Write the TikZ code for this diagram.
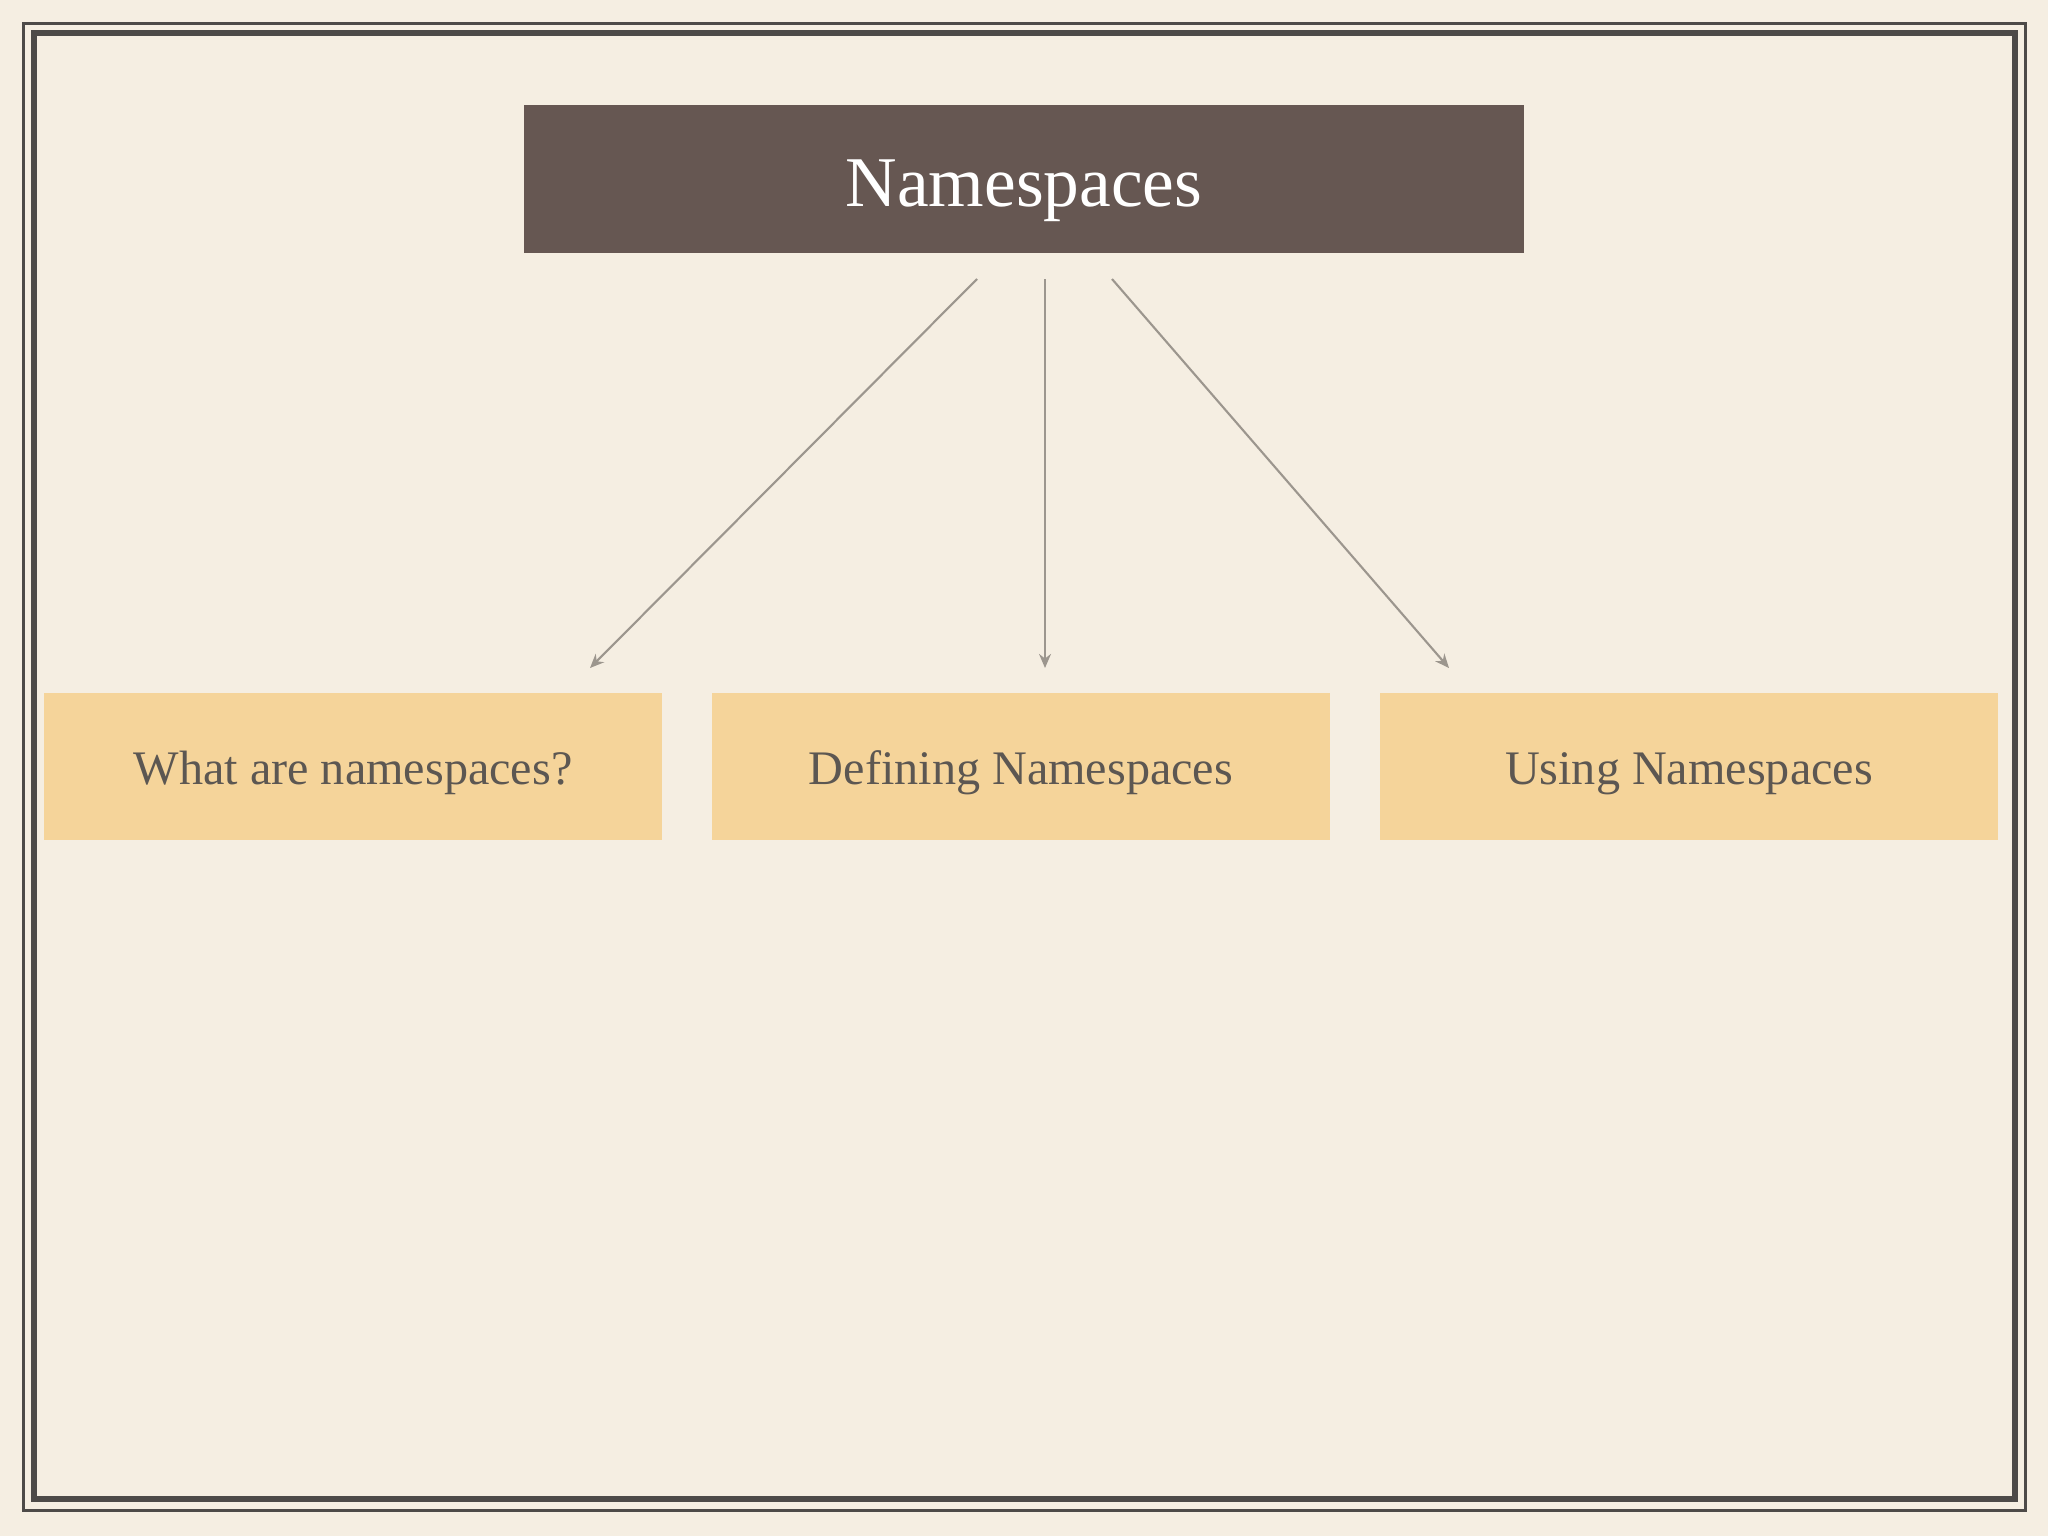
\documentclass[tikz,border=0pt]{standalone}
\usepackage{fontspec}
\setmainfont{Liberation Serif}
\usetikzlibrary{arrows.meta}
\definecolor{paper}{HTML}{F5EEE2}
\definecolor{frame}{HTML}{4D4A48}
\definecolor{titlebg}{HTML}{665752}
\definecolor{topicbg}{HTML}{F5D49A}
\definecolor{topictext}{HTML}{5C5752}
\definecolor{link}{HTML}{9C968E}
\begin{document}
\begin{tikzpicture}[x=0.01cm,y=-0.01cm]
    \tikzstyle{title}=[fill=titlebg,text=white,minimum width=10cm,minimum height=1.48cm,inner sep=0pt,text height=15.4pt,text depth=0pt,font=\fontsize{20.3}{24}\selectfont]
    \tikzstyle{topic}=[fill=topicbg,text=topictext,minimum width=6.18cm,minimum height=1.47cm,inner sep=0pt,text height=10.5pt,text depth=0pt,font=\fontsize{13.7}{17}\selectfont]
    \tikzstyle{link}=[draw=link,line width=0.6pt,-{Stealth[length=4pt,width=3.4pt]}]
    \fill [paper] (0,0) rectangle (2048,1536);
    \useasboundingbox (0,0) rectangle (2048,1536);
    % frame
    \draw [frame,line width=0.9pt] (23.5,23.5) rectangle (2025.5,1510.5);
    \draw [frame,line width=1.7pt] (34,33) rectangle (2015,1499);
    % nodes
    \node [title] (ns) at (1024,179) {Namespaces};
    \node [topic] (what) at (353,766.5) {What are namespaces?};
    \node [topic] (def) at (1021,766.5) {Defining Namespaces};
    \node [topic] (use) at (1689,766.5) {Using Namespaces};
    % arrow ends
    \coordinate (s1) at (977,279);
    \coordinate (s2) at (1045,279);
    \coordinate (s3) at (1112,279);
    \coordinate (e1) at (590,668);
    \coordinate (e2) at (1045,668);
    \coordinate (e3) at (1449,668);
    \draw [link] (s1) -- (e1);
    \draw [link] (s2) -- (e2);
    \draw [link] (s3) -- (e3);
\end{tikzpicture}
\end{document}
